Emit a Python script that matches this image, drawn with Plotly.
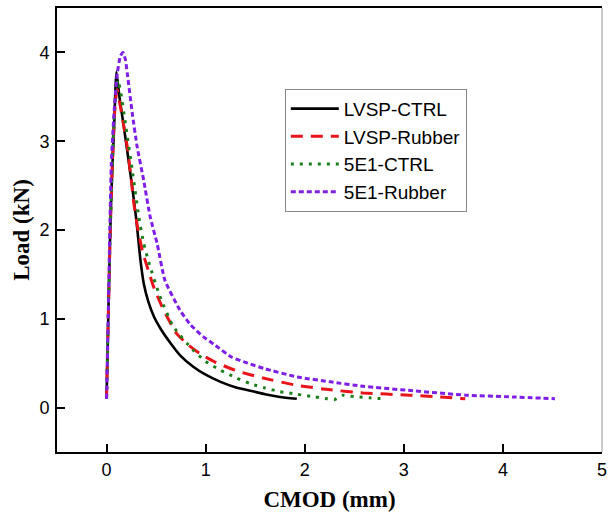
import plotly.graph_objects as go

# ---- data ----
names = ["LVSP-CTRL", "LVSP-Rubber", "5E1-CTRL", "5E1-Rubber"]

lvsp_ctrl_x = [0, 0.02, 0.04, 0.06, 0.075, 0.09, 0.10, 0.13, 0.18, 0.25, 0.30, 0.34, 0.375, 0.42,
               0.48, 0.55, 0.65, 0.75, 0.875, 1.0, 1.15, 1.3, 1.45, 1.6, 1.75, 1.92]
lvsp_ctrl_y = [0.1, 1.15, 2.1, 2.75, 3.12, 3.6, 3.78, 3.5, 3.12, 2.56, 2.12, 1.68, 1.40, 1.2,
               1.02, 0.88, 0.72, 0.58, 0.46, 0.37, 0.29, 0.23, 0.19, 0.15, 0.12, 0.10]

lvsp_rub_x = [0, 0.02, 0.04, 0.06, 0.08, 0.095, 0.108, 0.13, 0.17, 0.21, 0.25, 0.275, 0.31, 0.36,
              0.42, 0.475, 0.575, 0.71, 0.82, 0.94, 1.1, 1.3, 1.45, 1.59, 1.925, 2.26, 2.59, 3.06,
              3.35, 3.62]
lvsp_rub_y = [0.1, 1.15, 2.1, 2.8, 3.3, 3.5, 3.58, 3.45, 3.2, 2.93, 2.56, 2.30, 2.05, 1.77,
              1.55, 1.36, 1.10, 0.83, 0.71, 0.61, 0.51, 0.42, 0.37, 0.33, 0.25, 0.20, 0.165, 0.14,
              0.12, 0.10]

e1_ctrl_x = [0, 0.02, 0.04, 0.06, 0.08, 0.10, 0.115, 0.14, 0.19, 0.26, 0.325, 0.375, 0.425, 0.54,
             0.675, 0.875, 1.0, 1.15, 1.3, 1.45, 1.6, 1.75, 1.925, 2.1, 2.225, 2.3, 2.39, 2.45,
             2.55, 2.65, 2.79]
e1_ctrl_y = [0.1, 1.15, 2.1, 2.8, 3.35, 3.6, 3.69, 3.57, 3.2, 2.67, 2.15, 1.85, 1.64, 1.25,
             0.91, 0.645, 0.52, 0.42, 0.34, 0.27, 0.22, 0.18, 0.15, 0.12, 0.10, 0.09, 0.14, 0.13,
             0.12, 0.11, 0.10]

e1_rub_x = [0, 0.02, 0.035, 0.048, 0.075, 0.108, 0.14, 0.165, 0.19, 0.21, 0.26, 0.31, 0.375, 0.44,
            0.51, 0.59, 0.74, 0.85, 0.975, 1.1, 1.26, 1.425, 1.59, 1.925, 2.26, 2.59, 3.09, 3.625,
            4.1, 4.525]
e1_rub_y = [0.1, 1.2, 2.11, 2.75, 3.31, 3.76, 3.96, 4.0, 3.92, 3.76, 3.31, 2.93, 2.56, 2.15,
            1.85, 1.43, 1.10, 0.93, 0.80, 0.70, 0.57, 0.50, 0.44, 0.345, 0.29, 0.24, 0.19, 0.14,
            0.12, 0.10]

xs = [lvsp_ctrl_x, lvsp_rub_x, e1_ctrl_x, e1_rub_x]
ys = [lvsp_ctrl_y, lvsp_rub_y, e1_ctrl_y, e1_rub_y]
colors = ["#000000", "#e8141a", "#1a7f1a", "#7f1fe6"]
dashes = ["solid", "12px,8px", "3px,6px", "5px,3px"]
widths = [2.6, 3.0, 3.0, 3.0]

fig = go.Figure()
for n, x, y, c, d, w in zip(names, xs, ys, colors, dashes, widths):
    fig.add_trace(go.Scatter(x=x, y=y, mode="lines", name=n,
                             line=dict(color=c, dash=d, width=w, shape="spline",
                                       smoothing=0.5)))

axis_common = dict(showline=True, linecolor="black", linewidth=2, ticks="inside",
                   ticklen=8, tickwidth=1.5, tickcolor="black", showgrid=False,
                   zeroline=False, ticklabeloverflow="allow",
                   tickfont=dict(family="Liberation Sans, Arial", size=18, color="black"))

fig.update_layout(
    width=608, height=518,
    margin=dict(l=57, r=1, t=8, b=66),
    paper_bgcolor="white", plot_bgcolor="white",
    xaxis=dict(range=[-0.5, 5.0], tickvals=[0, 1, 2, 3, 4, 5], mirror=True,
               title=dict(text="CMOD (mm)", standoff=12,
                          font=dict(family="Liberation Serif, Times New Roman", size=23,
                                    color="black", weight="bold")),
               ticklabelstandoff=0, **axis_common),
    yaxis=dict(range=[-0.5, 4.5], tickvals=[0, 1, 2, 3, 4], mirror=False,
               title=dict(text="Load (kN)", standoff=3,
                          font=dict(family="Liberation Serif, Times New Roman", size=23,
                                    color="black", weight="bold")),
               ticklabelstandoff=2, **axis_common),
    legend=dict(x=0.418, y=0.818, xanchor="left", yanchor="top",
                bgcolor="white", bordercolor="#888888", borderwidth=1,
                font=dict(family="Liberation Sans, Arial", size=19, color="black"),
                tracegroupgap=0, itemwidth=48),
    showlegend=True,
)
# thin grey right frame line
fig.add_shape(type="line", xref="paper", yref="paper", x0=1, x1=1, y0=0, y1=1,
              line=dict(color="#999999", width=1))

fig.write_html("out.html")
